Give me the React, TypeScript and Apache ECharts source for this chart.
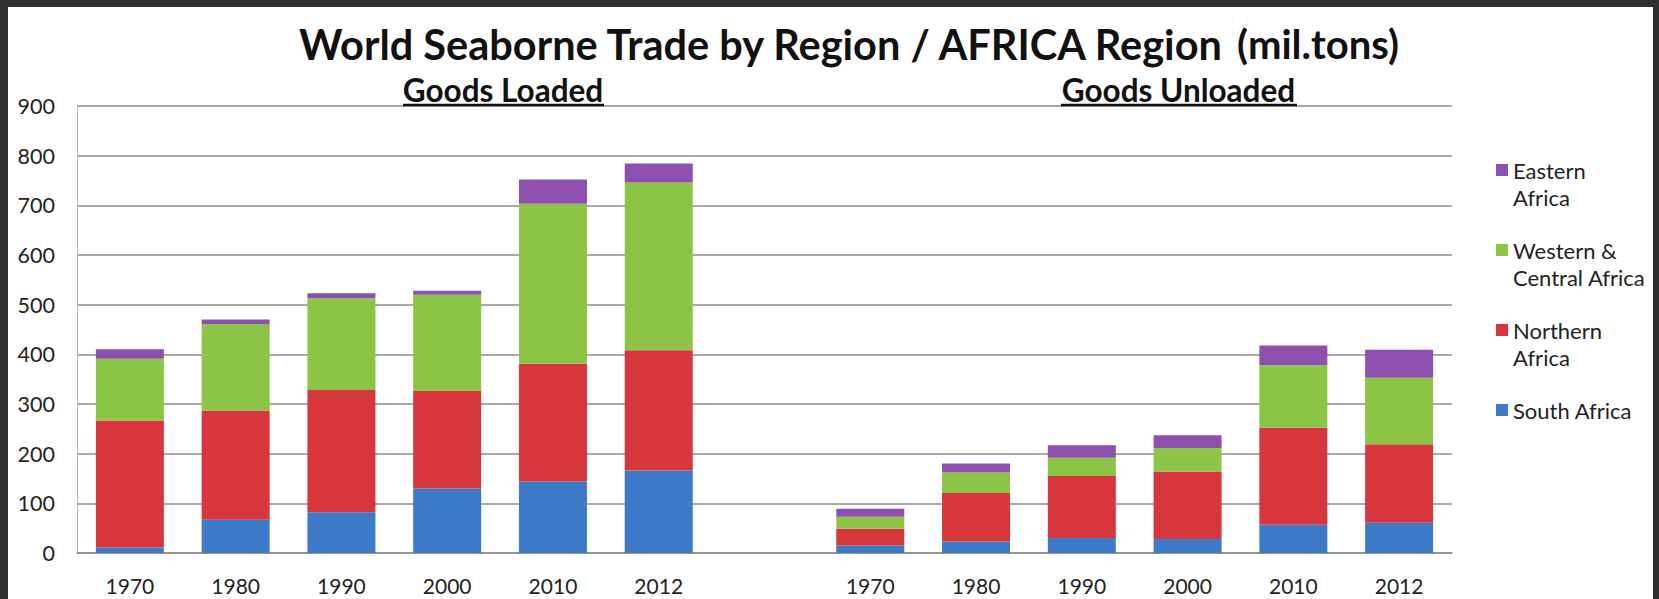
import React, { useEffect, useRef } from "react";
import * as echarts from "echarts";

const years = ["1970", "1980", "1990", "2000", "2010", "2012"];
const regions = ["South Africa", "Northern Africa", "Western & Central Africa", "Eastern Africa"];
const colors = ["#3d7ac8", "#d7363c", "#8cc545", "#8d50ae"];

const loadedSouth = [11, 67, 82, 130, 144, 166];
const loadedNorthern = [256, 220, 246, 196, 237, 242];
const loadedWestern = [124, 174, 185, 194, 322, 338];
const loadedEastern = [19, 9, 10, 8, 49, 38];

const unloadedSouth = [15, 23, 30, 28, 57, 61];
const unloadedNorthern = [34, 98, 125, 136, 195, 158];
const unloadedWestern = [24, 41, 37, 47, 126, 134];
const unloadedEastern = [16, 18, 25, 26, 40, 56];

const legendLabels: Record<string, string> = {
  "Eastern Africa": "Eastern\nAfrica",
  "Western & Central Africa": "Western &\nCentral Africa",
  "Northern Africa": "Northern\nAfrica",
  "South Africa": "South Africa",
};

const FONT = "Lato, 'Open Sans', sans-serif";

export default function App() {
  const ref = useRef<HTMLDivElement>(null);

  useEffect(() => {
    if (!ref.current) return;
    const chart = echarts.init(ref.current, undefined, { renderer: "svg" });

    const categories = [...years, "", ...years];
    const loaded = [loadedSouth, loadedNorthern, loadedWestern, loadedEastern];
    const unloaded = [unloadedSouth, unloadedNorthern, unloadedWestern, unloadedEastern];

    const series = regions.map((name, i) => ({
      name,
      type: "bar",
      stack: "total",
      barWidth: 68,
      itemStyle: { color: colors[i] },
      data: [...loaded[i], "-", ...unloaded[i]],
    }));

    const iconTop = "path://M0,0h12v12H0zM0,38.95h0.05v0.05H0z";
    const iconMid = "path://M0,0h12v12H0z";

    chart.setOption({
      animation: false,
      backgroundColor: "#ffffff",
      textStyle: { fontFamily: FONT },
      title: {
        left: 291,
        top: 12,
        padding: 0,
        text: "{a|World Seaborne Trade by Region / AFRICA Region }{b|(mil.tons)}",
        textStyle: {
          rich: {
            a: { fontFamily: FONT, fontWeight: "bold", fontSize: 41.5, lineHeight: 50, color: "#111" },
            b: { fontFamily: FONT, fontWeight: "bold", fontSize: 40, lineHeight: 50, color: "#111" },
          },
        },
      },
      legend: {
        orient: "vertical",
        left: 1488,
        top: 149.5,
        padding: 0,
        itemWidth: 12,
        itemHeight: 39,
        itemGap: 26,
        symbolKeepAspect: true,
        selectedMode: false,
        formatter: (n: string) => legendLabels[n] || n,
        textStyle: { fontFamily: FONT, fontSize: 22, lineHeight: 27, color: "#222" },
        data: [
          { name: "Eastern Africa", icon: iconTop },
          { name: "Western & Central Africa", icon: iconTop },
          { name: "Northern Africa", icon: iconTop },
          { name: "South Africa", icon: iconMid },
        ],
      },
      grid: { left: 69, right: 201, top: 99, bottom: 46, containLabel: false },
      xAxis: {
        type: "category",
        data: categories,
        axisTick: { show: false },
        axisLine: { lineStyle: { color: "#8c8c8c", width: 1.5 } },
        axisLabel: { fontFamily: FONT, fontSize: 21, color: "#222", margin: 22, interval: 0 },
      },
      yAxis: {
        type: "value",
        min: 0,
        max: 900,
        interval: 100,
        axisLine: { show: true, lineStyle: { color: "#b5b5b5", width: 1 } },
        axisTick: { show: false },
        axisLabel: { fontFamily: FONT, fontSize: 21.5, color: "#222", margin: 22 },
        splitLine: { lineStyle: { color: "#8c8c8c", width: 1.5 } },
      },
      graphic: [
        {
          type: "text",
          z: 100,
          x: 495,
          y: 83,
          style: {
            text: "Goods Loaded",
            font: `bold 31.5px ${FONT}`,
            fill: "#111",
            align: "center",
            verticalAlign: "middle",
            textAlign: "center",
            textVerticalAlign: "middle",
          },
        },
        {
          type: "text",
          z: 100,
          x: 1170.5,
          y: 83,
          style: {
            text: "Goods Unloaded",
            font: `bold 31.5px ${FONT}`,
            fill: "#111",
            align: "center",
            verticalAlign: "middle",
            textAlign: "center",
            textVerticalAlign: "middle",
          },
        },
        {
          type: "line",
          z: 100,
          shape: { x1: 395, y1: 98, x2: 596, y2: 98 },
          style: { stroke: "#111", lineWidth: 2.5 },
        },
        {
          type: "line",
          z: 100,
          shape: { x1: 1053, y1: 98, x2: 1289, y2: 98 },
          style: { stroke: "#111", lineWidth: 2.5 },
        },
      ],
      series,
    });

    return () => chart.dispose();
  }, []);

  return (
    <div
      style={{
        position: "fixed",
        left: 0,
        top: 0,
        width: 1659,
        height: 599,
        background: "#2f2f2f",
        overflow: "hidden",
      }}
    >
      <div
        ref={ref}
        style={{ position: "absolute", left: 8, top: 7, width: 1645, height: 592, background: "#fff" }}
      />
    </div>
  );
}
